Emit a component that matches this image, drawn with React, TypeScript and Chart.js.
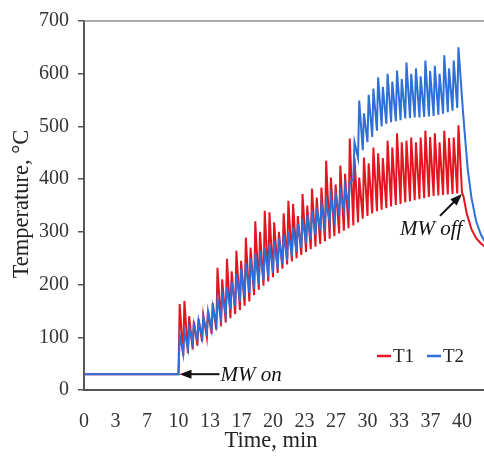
import React, { useEffect, useRef } from "react";
import { Chart, registerables } from "chart.js";

Chart.register(...registerables);

// ---- Data ----
const SERIES_NAMES = ["T1", "T2"];
const X_TITLE = "Time, min";
const Y_TITLE = "Temperature, °C";
const X_TICKS = [0, 10 / 3, 20 / 3, 10, 40 / 3, 50 / 3, 20, 70 / 3, 80 / 3, 30, 100 / 3, 110 / 3, 40];
const Y_TICKS = [0, 100, 200, 300, 400, 500, 600, 700];

// before microwave on (min, °C)
const BASE_T = [0, 10];
const T1_BASE = [30, 30];
const T2_BASE = [30, 30];

// cycle boundaries of the oscillation while MW is on (min)
const CYCLE_T = [
  10, 10.5, 11, 11.5, 12, 12.5, 13, 13.5, 14, 14.5, 15, 15.5, 16, 16.5, 17, 17.5,
  18, 18.5, 19, 19.5, 20, 20.5, 21, 21.5, 22, 22.5, 23, 23.5, 24, 24.5, 25, 25.5,
  26, 26.5, 27, 27.5, 28, 28.5, 29, 29.5, 30, 30.5, 31, 31.5, 32, 32.5, 33, 33.5,
  34, 34.5, 35, 35.5, 36, 36.5, 37, 37.5, 38, 38.5, 39, 39.5, 40,
];

// peak of each cycle (°C)
const T1_PEAK = [
  163, 169, 140, 130, 135, 142, 150, 165, 232, 210, 249, 225, 264, 245, 289, 270,
  320, 300, 340, 337, 318, 300, 335, 359, 353, 330, 372, 350, 382, 365, 384, 435,
  403, 390, 426, 410, 477, 440, 403, 441, 430, 460, 449, 440, 473, 460, 487, 470,
  473, 479, 470, 479, 492, 480, 487, 470, 492, 478, 479, 502,
];
// trough at the end of each cycle (°C)
const T1_TROUGH = [
  65, 70, 77, 84, 92, 100, 107, 114, 121, 128, 136, 144, 152, 160, 168, 180,
  190, 198, 206, 214, 222, 230, 238, 244, 250, 256, 262, 267, 272, 277, 282, 287,
  292, 297, 302, 307, 312, 318, 325, 330, 335, 339, 342, 345, 348, 351, 353, 356,
  358, 360, 362, 364, 366, 368, 369, 370, 371, 372, 373, 375,
];
const T2_PEAK = [
  105, 110, 118, 125, 132, 138, 150, 158, 172, 182, 195, 205, 220, 230, 240, 250,
  258, 264, 270, 276, 282, 288, 295, 300, 308, 315, 325, 332, 340, 346, 352, 358,
  366, 372, 378, 386, 392, 470, 549, 525, 560, 572, 593, 575, 600, 585, 606, 590,
  621, 600, 610, 595, 625, 605, 615, 600, 635, 610, 625, 650,
];
const T2_TROUGH = [
  68, 78, 88, 95, 100, 108, 115, 125, 135, 143, 152, 160, 168, 176, 184, 192,
  200, 208, 215, 222, 230, 238, 246, 254, 262, 270, 278, 286, 294, 302, 310, 318,
  326, 334, 342, 350, 400, 440, 455, 470, 480, 492, 500, 505, 508, 510, 512, 515,
  516, 517, 517, 518, 519, 520, 522, 524, 527, 530, 535, 555,
];

// cooling after microwave off
const T1_OFF_T = [40.15, 40.5, 41.0, 41.5, 42.0, 42.4];
const T1_OFF = [368, 335, 305, 288, 278, 272];
const T2_OFF_T = [40.1, 40.3, 40.6, 41.0, 41.5, 42.0, 42.4];
const T2_OFF = [530, 485, 420, 365, 320, 295, 282];

const COLORS = ["#e3151f", "#2e6fd8"];
const FONT = '"Liberation Serif", "Times New Roman", serif';

function buildSeries(base: number[], peaks: number[], troughs: number[], offT: number[], off: number[]) {
  const pts: { x: number; y: number }[] = [];
  BASE_T.forEach((t, i) => pts.push({ x: t, y: base[i] }));
  for (let k = 0; k < peaks.length; k++) {
    const t0 = CYCLE_T[k];
    const t1 = CYCLE_T[k + 1];
    pts.push({ x: t0 + 0.25 * (t1 - t0), y: peaks[k] });
    pts.push({ x: t1, y: troughs[k] });
  }
  offT.forEach((t, i) => pts.push({ x: t, y: off[i] }));
  return pts;
}

function arrow(ctx: CanvasRenderingContext2D, x0: number, y0: number, x1: number, y1: number) {
  const ang = Math.atan2(y1 - y0, x1 - x0);
  const len = 12;
  const hw = 4.5;
  ctx.beginPath();
  ctx.moveTo(x0, y0);
  ctx.lineTo(x1 - Math.cos(ang) * (len - 2), y1 - Math.sin(ang) * (len - 2));
  ctx.stroke();
  ctx.beginPath();
  ctx.moveTo(x1, y1);
  ctx.lineTo(x1 - Math.cos(ang) * len - Math.sin(ang) * hw, y1 - Math.sin(ang) * len + Math.cos(ang) * hw);
  ctx.lineTo(x1 - Math.cos(ang) * len + Math.sin(ang) * hw, y1 - Math.sin(ang) * len - Math.cos(ang) * hw);
  ctx.closePath();
  ctx.fill();
}

const overlayPlugin = {
  id: "overlay",
  afterDraw(chart: any) {
    const { ctx, chartArea, scales } = chart;
    const xs = scales.x;
    const ys = scales.y;
    ctx.save();
    // top frame line
    ctx.strokeStyle = "#8c8c8c";
    ctx.lineWidth = 1.5;
    ctx.beginPath();
    ctx.moveTo(chartArea.left, chartArea.top);
    ctx.lineTo(chartArea.right, chartArea.top);
    ctx.stroke();

    // axis titles
    ctx.fillStyle = "#222";
    ctx.font = `22.5px ${FONT}`;
    ctx.textAlign = "center";
    ctx.textBaseline = "middle";
    ctx.fillText(X_TITLE, 271, 441);
    ctx.save();
    ctx.translate(22, 204);
    ctx.rotate(-Math.PI / 2);
    ctx.fillText(Y_TITLE, 0, 0);
    ctx.restore();

    // annotations
    ctx.strokeStyle = "#111";
    ctx.fillStyle = "#111";
    ctx.lineWidth = 2;
    const onX = xs.getPixelForValue(10) + 1;
    const onY = ys.getPixelForValue(30);
    arrow(ctx, onX + 40, onY, onX, onY);
    ctx.font = `italic 21px ${FONT}`;
    ctx.textAlign = "left";
    ctx.fillText("MW on", onX + 41, onY + 1);

    const offX = xs.getPixelForValue(40);
    const offY = ys.getPixelForValue(372);
    arrow(ctx, offX - 22, offY + 22, offX, offY);
    ctx.fillText("MW off", offX - 62, offY + 36);

    // legend
    ctx.font = `19px ${FONT}`;
    ctx.fillStyle = "#222";
    const ly = 356;
    const items = [
      { x: 377, label: SERIES_NAMES[0], color: COLORS[0] },
      { x: 427, label: SERIES_NAMES[1], color: COLORS[1] },
    ];
    items.forEach((it) => {
      ctx.strokeStyle = it.color;
      ctx.lineWidth = 2.5;
      ctx.beginPath();
      ctx.moveTo(it.x, ly);
      ctx.lineTo(it.x + 14, ly);
      ctx.stroke();
      ctx.fillText(it.label, it.x + 16, ly + 1);
    });
    ctx.restore();
  },
};

function zeroPad(s: any) {
  s.paddingLeft = 0;
  s.paddingRight = 0;
  s.paddingTop = 0;
  s.paddingBottom = 0;
}

export default function App() {
  const ref = useRef<HTMLCanvasElement | null>(null);
  useEffect(() => {
    if (!ref.current) return;
    const t1 = buildSeries(T1_BASE, T1_PEAK, T1_TROUGH, T1_OFF_T, T1_OFF);
    const t2 = buildSeries(T2_BASE, T2_PEAK, T2_TROUGH, T2_OFF_T, T2_OFF);
    const chart = new Chart(ref.current, {
      type: "line",
      data: {
        datasets: [
          { label: SERIES_NAMES[0], data: t1, borderColor: COLORS[0], backgroundColor: COLORS[0], borderWidth: 2, pointRadius: 0, tension: 0, order: 2 },
          { label: SERIES_NAMES[1], data: t2, borderColor: COLORS[1], backgroundColor: COLORS[1], borderWidth: 2, pointRadius: 0, tension: 0, order: 1 },
        ],
      },
      options: {
        responsive: false,
        animation: false,
        events: [],
        layout: { autoPadding: false, padding: { top: 21, left: 0, right: 0, bottom: 0 } },
        plugins: { legend: { display: false }, tooltip: { enabled: false } },
        scales: {
          x: {
            type: "linear",
            min: 0,
            max: 42.33,
            afterBuildTicks: (s: any) => {
              s.ticks = X_TICKS.map((v) => ({ value: v }));
            },
            afterFit: (s: any) => {
              s.height = 66;
              zeroPad(s);
            },
            grid: { display: false, drawTicks: false },
            border: { display: true, color: "#555", width: 2 },
            ticks: {
              autoSkip: false,
              maxRotation: 0,
              padding: 20,
              color: "#333",
              font: { family: FONT, size: 20 },
              callback: (v: any) => String(Math.round(Number(v))),
            },
          },
          y: {
            min: 0,
            max: 700,
            afterBuildTicks: (s: any) => {
              s.ticks = Y_TICKS.map((v) => ({ value: v }));
            },
            afterFit: (s: any) => {
              s.width = 84;
              zeroPad(s);
            },
            grid: { drawOnChartArea: false, drawTicks: true, tickLength: 6, color: "#555", lineWidth: 1.5 },
            border: { display: true, color: "#555", width: 2 },
            ticks: {
              padding: 9,
              color: "#333",
              font: { family: FONT, size: 20 },
            },
          },
        },
      },
      plugins: [overlayPlugin],
    });
    return () => chart.destroy();
  }, []);
  return (
    <div style={{ position: "absolute", left: 0, top: 0, width: 484, height: 456, background: "#fff" }}>
      <canvas ref={ref} width={484} height={456} />
    </div>
  );
}
